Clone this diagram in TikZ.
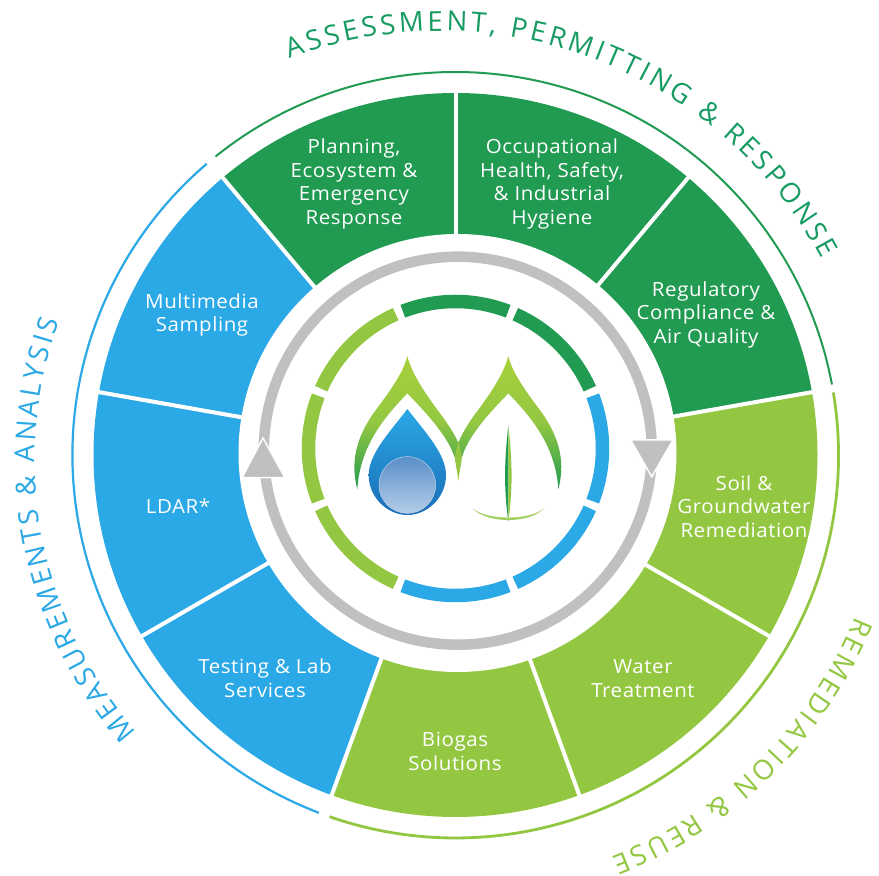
\documentclass[tikz,border=0pt]{standalone}
\usepackage{fontspec}
\setmainfont[FakeStretch=1.05,LetterSpace=3]{Open Sans}
\newfontfamily\arcfont{Open Sans}
\usetikzlibrary{decorations.text}
\definecolor{dgreen}{HTML}{219A52}
\definecolor{tgreen}{HTML}{169B62}
\definecolor{lgreen}{HTML}{93C742}
\definecolor{sky}{HTML}{2BA8E6}
\definecolor{ringgray}{HTML}{C0C0C0}
\definecolor{tipgreen}{HTML}{A8D03C}
\definecolor{dropdark}{HTML}{1A6DB6}
\definecolor{orbtop}{HTML}{5A8FC8}
\definecolor{orbmid}{HTML}{6F91C6}
\definecolor{orbbot}{HTML}{B4CDE8}
\tikzset{
  x=1pt,y=1pt,
  label/.style={text=white,align=center,font=\fontsize{19.5}{23.5}\selectfont,inner sep=0pt},
  ringarc/.style={line width=13.5,line cap=butt},
  outerarc/.style={line cap=butt},
  divider/.style={draw=white,line width=4},
  arrowhead/.style={fill=ringgray,draw=white,line width=1.5,line join=miter},
}
\newcommand{\arctext}[7]{% cx,cy,r,start,end,colour,text
  \path[decorate,decoration={text along path,text align={fit to path},
    text={|\arcfont\fontsize{27.5}{27.5}\selectfont\color{#6}|#7}}]
    ([shift={(#1,#2)}]#4:#3) arc[start angle=#4,end angle=#5,radius=#3];}
\begin{document}
\begin{tikzpicture}
\useasboundingbox (0,0) rectangle (879,876);
\fill[white] (0,0) rectangle (879,876);
\coordinate (c) at (455.5,421);
% wedges
\foreach \a/\b/\col in {130/90/dgreen,90/50/dgreen,50/10/dgreen,10/-30/lgreen,-30/-70/lgreen,-70/-110/lgreen,-110/-150/sky,-150/-190/sky,-190/-230/sky}{
  \fill[\col] (c) -- ([shift={(c)}]\a:362) arc[start angle=\a,end angle=\b,radius=362] -- cycle;
}
\foreach \a in {130,90,50,10,-30,-70,-110,-150,-190}{
  \draw[divider] (c) -- ([shift={(c)}]\a:366);
}
\fill[white] (457.5,423) circle[radius=219];
% outer arcs
\draw[outerarc,dgreen,line width=2] ([shift={(c)}]128.8:383) arc[start angle=128.8,end angle=10.6,radius=383];
\draw[outerarc,lgreen,line width=2.8] ([shift={(c)}]9.4:383) arc[start angle=9.4,end angle=-109.2,radius=383];
\draw[outerarc,sky,line width=2.2] ([shift={(c)}]-110.9:383) arc[start angle=-110.9,end angle=-229.5,radius=383];
% gray ring
\draw[ringgray,line width=10.5] (457.8,425.3) circle[radius=194];
\path[arrowhead] (651.7,399.3) -- (630.7,436) -- (673,436) -- cycle;
\path[arrowhead] (263,438) -- (242,398.3) -- (285,398.3) -- cycle;
% inner ring
\foreach \m/\col in {90/dgreen,45/dgreen,0/sky,-45/sky,-90/sky,-135/lgreen,180/lgreen,135/lgreen}{
  \pgfmathsetmacro{\s}{\m+21}\pgfmathsetmacro{\e}{\m-21}
  \draw[ringarc,\col] ([shift={(455.5,427.5)}]\s:147) arc[start angle=\s,end angle=\e,radius=147];
}
% logo
\begin{scope}[shift={(320pt,546pt)},x=0.33333pt,y=-0.33333pt]
  \shade[top color=tipgreen,bottom color=dgreen,middle color=lgreen]
    (112,478) .. controls (92,400) and (105,330) .. (160,250) .. controls (205,190) and (250,130) .. (262,78)
    .. controls (275,130) and (315,190) .. (360,250) .. controls (390,290) and (408,320) .. (415,340)
    -- (405,385) .. controls (385,320) and (320,250) .. (262,190)
    .. controls (205,250) and (120,340) .. (112,478) -- cycle;
  \shade[top color=tipgreen,bottom color=dgreen,middle color=lgreen]
    (715,478) .. controls (735,400) and (722,330) .. (667,250) .. controls (622,190) and (577,130) .. (565,78)
    .. controls (552,130) and (512,190) .. (467,250) .. controls (437,290) and (422,320) .. (415,340)
    -- (425,385) .. controls (442,320) and (507,250) .. (565,190)
    .. controls (622,250) and (707,340) .. (715,478) -- cycle;
  \fill[lgreen] (415,332) .. controls (410,355) and (403,375) .. (405,390) .. controls (408,410) and (413,430) .. (415,452)
    .. controls (417,430) and (422,410) .. (425,390) .. controls (427,375) and (420,355) .. (415,332) -- cycle;
  \shade[top color=sky,middle color=sky,bottom color=dropdark]
    (262,237) .. controls (215,300) and (146,370) .. (146,435) .. controls (146,505) and (205,555) .. (262,555)
    .. controls (320,555) and (378,505) .. (378,435) .. controls (378,370) and (310,300) .. (262,237) -- cycle;
  \shade[top color=orbtop,middle color=orbmid,bottom color=orbbot,draw=white!60!orbtop,line width=0.5pt]
    (262,465) circle[radius=85];
  \fill[dgreen] (565,288) .. controls (552,400) and (552,480) .. (565,575) -- cycle;
  \fill[lgreen] (565,288) .. controls (578,400) and (578,480) .. (565,575) -- cycle;
  \fill[lgreen!85!white] (458,535) .. controls (500,572) and (630,572) .. (672,535) .. controls (630,582) and (500,582) .. (458,535) -- cycle;
\end{scope}
% labels
\node[label] (n1) at (354,692) {Planning,\\Ecosystem \&\\Emergency\\Response};
\node[label] (n2) at (552,692) {Occupational\\Health, Safety,\\\& Industrial\\Hygiene};
\node[label] (n3) at (706,561.5) {Regulatory\\Compliance \&\\Air Quality};
\node[label] (n4) at (744,369.5) {Soil \&\\Groundwater\\Remediation};
\node[label] (n5) at (643,197.5) {Water\\Treatment};
\node[label] (n6) at (455,124.5) {Biogas\\Solutions};
\node[label] (n7) at (265,198) {Testing \& Lab\\Services};
\node[label] (n8) at (178,370) {LDAR*};
\node[label] (n9) at (202,561) {Multimedia\\Sampling};
% arc titles
\arctext{441}{413}{432}{110.5}{28.2}{tgreen}{ASSESSMENT, PERMITTING {\&} RESPONSE}
\arctext{455.5}{421}{431}{-22}{-68.8}{lgreen}{REMEDIATION {\&} REUSE}
\arctext{450}{416}{415}{221}{160.5}{sky}{MEASUREMENTS {\&} ANALYSIS}
\end{tikzpicture}
\end{document}
